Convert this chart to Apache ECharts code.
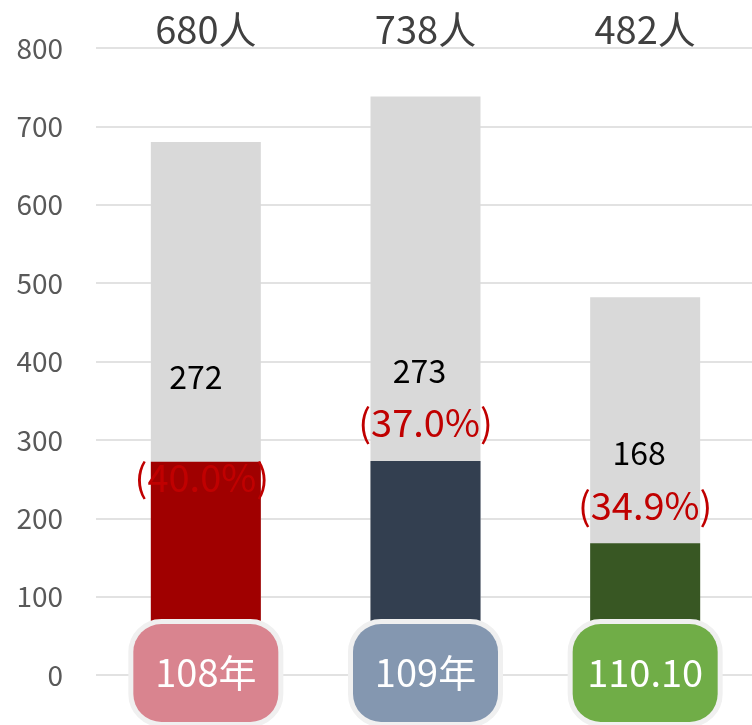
<!DOCTYPE html>
<html>
<head>
<meta charset="utf-8">
<script src="https://cdn.jsdelivr.net/npm/echarts@6/dist/echarts.min.js"></script>
<style>
  html, body { margin: 0; padding: 0; background: #fff; }
  #main { width: 752px; height: 725px; }
</style>
</head>
<body>
<div id="main"></div>
<script>
var dom = document.getElementById('main');
var chart = echarts.init(dom);

// 年度
var categories = ['108年', '109年', '110.10'];
// 總人數
var totals = [680, 738, 482];
// 部分人數
var parts = [272, 273, 168];
// 百分比
var percents = ['40.0%', '37.0%', '34.9%'];
// y 軸刻度
var yTicks = [0, 100, 200, 300, 400, 500, 600, 700, 800];

var barColors = ['#a00000', '#333f50', '#385723'];
var boxColors = ['#d9848f', '#8497b0', '#70ad47'];
var font = '"Noto Sans CJK TC", "Noto Sans", sans-serif';

var boxRich = {};
boxColors.forEach(function (c, i) {
    boxRich['b' + i] = {
        backgroundColor: c,
        borderColor: '#f0f0f0',
        borderWidth: 5,
        borderRadius: 28,
        width: 145,
        height: 98,
        align: 'center',
        color: '#fff',
        fontSize: 38,
        fontFamily: font
    };
});

var partData = parts.map(function (v, i) {
    var item = { value: v, itemStyle: { color: barColors[i] } };
    if (i === 0) {
        // 第一個標籤手動下移
        item.label = {
            formatter: '{n|' + v + '}\n{g| }\n{p|(' + percents[i] + ')}',
            offset: [-4, 54]
        };
    }
    return item;
});

var option = {
    animation: false,
    textStyle: { fontFamily: font },
    grid: { left: 96, right: -3, top: 48, bottom: 50, outerBoundsMode: 'none' },
    xAxis: [{
        type: 'category',
        data: categories,
        z: 10,
        axisLine: { show: false },
        axisTick: { show: false },
        axisLabel: {
            interval: 0,
            margin: -51,
            formatter: function (v, i) { return '{b' + i + '|' + v + '}'; },
            rich: boxRich
        }
    }, {
        type: 'category',
        position: 'top',
        data: totals.map(function (v) { return v + '人'; }),
        axisLine: { show: false },
        axisTick: { show: false },
        axisLabel: { interval: 0, margin: -1, fontSize: 38, color: '#404040', fontFamily: font }
    }],
    yAxis: {
        type: 'value',
        min: yTicks[0],
        max: yTicks[yTicks.length - 1],
        interval: 100,
        axisLine: { show: false },
        axisTick: { show: false },
        axisLabel: { margin: 33, fontSize: 28, color: '#595959', fontFamily: font },
        splitLine: { lineStyle: { color: '#d9d9d9', width: 1.5 } }
    },
    series: [{
        type: 'bar',
        name: '總數',
        data: totals,
        barWidth: 110,
        itemStyle: { color: '#d9d9d9' },
        silent: true
    }, {
        type: 'bar',
        name: '部分',
        data: partData,
        barWidth: 110,
        barGap: '-100%',
        label: {
            show: true,
            position: 'top',
            distance: 12,
            formatter: function (p) {
                return '{n|' + p.value + '}\n{p|(' + percents[p.dataIndex] + ')}';
            },
            rich: {
                n: { fontSize: 32, lineHeight: 52, color: '#000', fontFamily: font, padding: [0, 12, 0, 0] },
                g: { fontSize: 10, lineHeight: 49 },
                p: { fontSize: 38, lineHeight: 52, color: '#c00000', fontFamily: font }
            }
        }
    }]
};

chart.setOption(option);
</script>
</body>
</html>
